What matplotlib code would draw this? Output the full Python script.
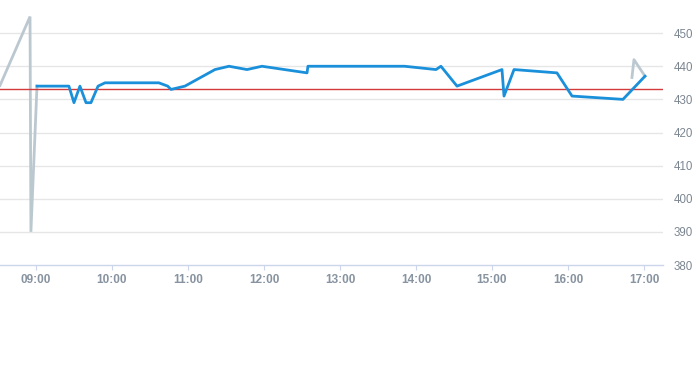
import matplotlib
matplotlib.use("Agg")
import matplotlib.pyplot as plt

# Data (time HH:MM, value)
blue_times = ["09:00.8", "09:26", "09:30", "09:34.7", "09:39.5", "09:43.4", "09:49", "09:54.5",
              "10:37", "10:44", "10:46.6", "10:57.6", "11:21.3", "11:32.4", "11:46.6", "11:58.4",
              "12:34", "12:34.7", "13:51", "14:15.8", "14:19.7", "14:32.4", "15:07.9", "15:09.5",
              "15:17.4", "15:51.3", "16:03.2", "16:43.4", "17:00.8"]
blue_values = [434, 434, 429, 434, 429, 429, 434, 435,
               435, 434, 433, 434, 439, 440, 439, 440,
               438, 440, 440, 439, 440, 434, 439, 431,
               439, 438, 431, 430, 437]

gray_start_times = ["08:31.6", "08:55.3", "08:56", "09:00.8"]
gray_start_values = [434.2, 455, 390, 434]
gray_end_times = ["16:50.5", "16:52.1", "17:00.8"]
gray_end_values = [436.6, 442, 437]

reference_value = 433
y_ticks = [380, 390, 400, 410, 420, 430, 440, 450]
x_tick_labels = ["09:00", "10:00", "11:00", "12:00", "13:00", "14:00", "15:00", "16:00", "17:00"]


def to_hours(s):
    h, m = s.split(":")
    return int(h) + float(m) / 60.0


W, H = 693, 365
fig = plt.figure(figsize=(W / 100, H / 100), dpi=100)
ax = fig.add_axes([0, (365 - 265) / 365, 663 / 693, 265 / 365])

ax.set_xlim(to_hours("08:31.6"), to_hours("08:31.6") + 663 / 76)
ax.set_ylim(380, 460)

for v in y_ticks[1:]:
    ax.axhline(v, color="#e6e6e6", lw=1, zorder=0)

ax.plot([to_hours(t) for t in gray_start_times], gray_start_values, color="#bcc8d0", lw=2, zorder=2,
        solid_joinstyle="miter")
ax.plot([to_hours(t) for t in gray_end_times], gray_end_values, color="#bcc8d0", lw=2, zorder=2)
ax.axhline(reference_value, color="#d43a3a", lw=1, zorder=3)
ax.plot([to_hours(t) for t in blue_times], blue_values, color="#1a90db", lw=2, zorder=4)

for s in ["top", "left", "right"]:
    ax.spines[s].set_visible(False)
ax.spines["bottom"].set_color("#ccd6eb")
ax.spines["bottom"].set_linewidth(1)

ax.set_xticks([to_hours(t) for t in x_tick_labels])
ax.set_xticklabels(x_tick_labels, fontfamily="Liberation Sans", fontweight="bold",
                   fontsize=8.5, color="#8793a0")
ax.tick_params(axis="x", length=3.6, color="#ccd6eb", pad=3)

ax.yaxis.tick_right()
ax.set_yticks(y_ticks)
ax.set_yticklabels([str(v) for v in y_ticks], fontfamily="Liberation Sans", fontsize=8.3, color="#7c8691")
ax.tick_params(axis="y", length=0, pad=7.5)

fig.savefig("out.png", dpi=100)
